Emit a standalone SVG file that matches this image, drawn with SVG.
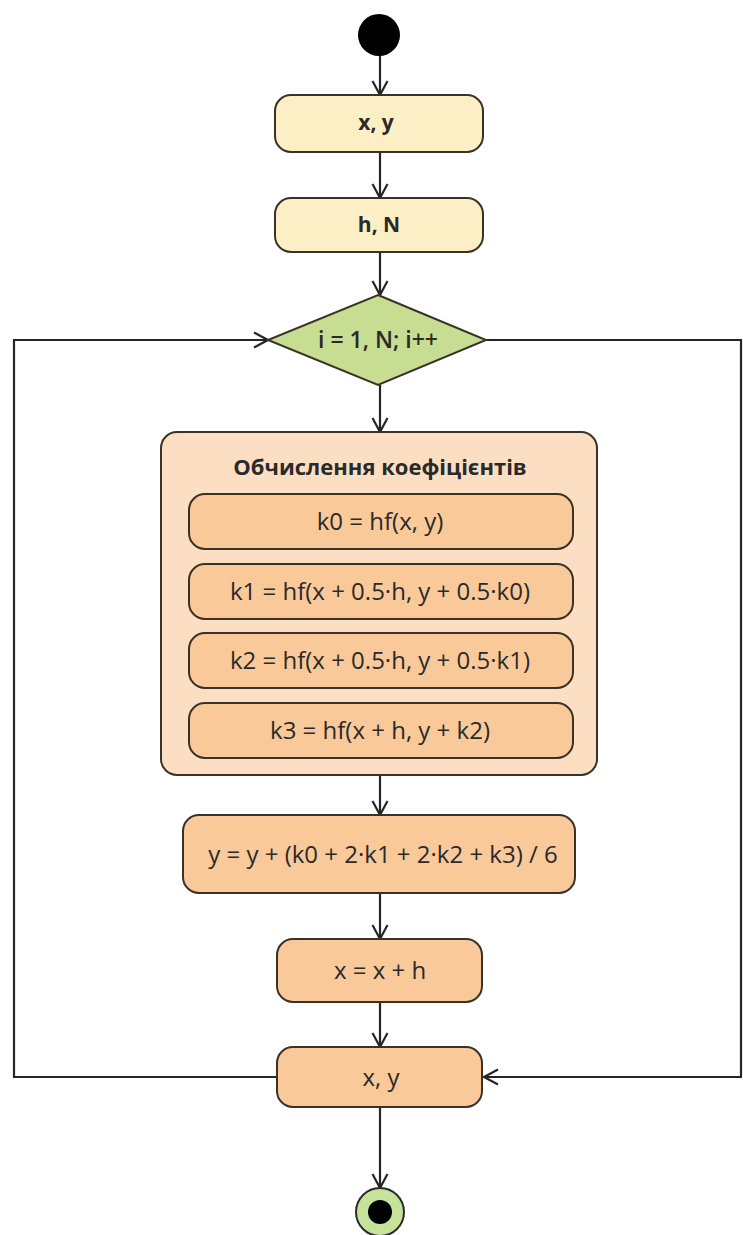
<svg xmlns="http://www.w3.org/2000/svg" width="743" height="1235" viewBox="0 0 743 1235">
  <defs>
    <marker id="arrow" viewBox="0 0 16 18" refX="15" refY="9" markerWidth="16" markerHeight="18" markerUnits="userSpaceOnUse" orient="auto">
      <path d="M1,1.5 L15,9 L1,16.5" fill="none" stroke="#262626" stroke-width="2.2"/>
    </marker>
    <style>
      .edge { fill: none; stroke: #262626; stroke-width: 2.2; }
      .box { stroke: #3a3226; stroke-width: 2; }
      .yellow { fill: #fcefc5; }
      .orange { fill: #f9c99a; }
      .pale { fill: #fcdfc3; }
      .green { fill: #c6dd92; }
      .t { font-family: "Open Sans", "Noto Sans", sans-serif; font-size: 24px; font-weight: 500; fill: #2a2a2a; text-anchor: middle; dominant-baseline: central; }
      .hd { font-size: 21px; font-weight: 700; }
      .ttl { font-size: 22px; font-weight: 700; }
      .dec { font-size: 23px; font-weight: 600; }
    </style>
  </defs>
  <rect width="743" height="1235" fill="#ffffff"/>

  <!-- connectors -->
  <g id="connectors">
    <path class="edge" d="M380,56 V95" marker-end="url(#arrow)"/>
    <path class="edge" d="M380,152 V198" marker-end="url(#arrow)"/>
    <path class="edge" d="M380,252 V295" marker-end="url(#arrow)"/>
    <path class="edge" d="M380,385 V432" marker-end="url(#arrow)"/>
    <path class="edge" d="M380,775 V815" marker-end="url(#arrow)"/>
    <path class="edge" d="M380,893 V939" marker-end="url(#arrow)"/>
    <path class="edge" d="M380,1002 V1047" marker-end="url(#arrow)"/>
    <path class="edge" d="M380,1107 V1188" marker-end="url(#arrow)"/>
    <path class="edge" d="M277,1077 H14 V340 H268" marker-end="url(#arrow)"/>
    <path class="edge" d="M486,340 H741 V1077 H484" marker-end="url(#arrow)"/>
  </g>

  <g id="start">
    <circle cx="379" cy="35" r="21" fill="#000000"/>
  </g>

  <g id="input-xy">
    <rect class="box yellow" x="275" y="95" width="208" height="57" rx="16"/>
    <text class="t hd" x="376" y="122">x, y</text>
  </g>

  <g id="input-hN">
    <rect class="box yellow" x="275" y="198" width="208" height="54" rx="16"/>
    <text class="t hd" x="379" y="224">h, N</text>
  </g>

  <g id="loop">
    <polygon class="box green" points="378,295 486,340 378,385 268,340"/>
    <text class="t dec" x="378" y="339">i = 1, N; i++</text>
  </g>

  <g id="coefficients">
    <rect class="box pale" x="161" y="432" width="436" height="343" rx="16"/>
    <text class="t ttl" x="380" y="466">Обчислення коефіцієнтів</text>
    <g id="k0">
      <rect class="box orange" x="189" y="494" width="384" height="55" rx="16"/>
      <text class="t" x="380" y="520">k0 = hf(x, y)</text>
    </g>
    <g id="k1">
      <rect class="box orange" x="189" y="564" width="384" height="55" rx="16"/>
      <text class="t" x="380" y="590">k1 = hf(x + 0.5·h, y + 0.5·k0)</text>
    </g>
    <g id="k2">
      <rect class="box orange" x="189" y="633" width="384" height="55" rx="16"/>
      <text class="t" x="380" y="659">k2 = hf(x + 0.5·h, y + 0.5·k1)</text>
    </g>
    <g id="k3">
      <rect class="box orange" x="189" y="703" width="384" height="55" rx="16"/>
      <text class="t" x="380" y="729">k3 = hf(x + h, y + k2)</text>
    </g>
  </g>

  <g id="update-y">
    <rect class="box orange" x="183" y="815" width="392" height="78" rx="16"/>
    <text class="t" x="383" y="853">y = y + (k0 + 2·k1 + 2·k2 + k3) / 6</text>
  </g>

  <g id="update-x">
    <rect class="box orange" x="277" y="939" width="205" height="63" rx="16"/>
    <text class="t" x="380" y="969">x = x + h</text>
  </g>

  <g id="output-xy">
    <rect class="box orange" x="277" y="1047" width="205" height="60" rx="16"/>
    <text class="t" x="381" y="1076">x, y</text>
  </g>

  <g id="end">
    <circle cx="380" cy="1212" r="24" fill="#c6e39a" stroke="#2b2b2b" stroke-width="2"/>
    <circle cx="380" cy="1212" r="12" fill="#000000"/>
  </g>
</svg>
